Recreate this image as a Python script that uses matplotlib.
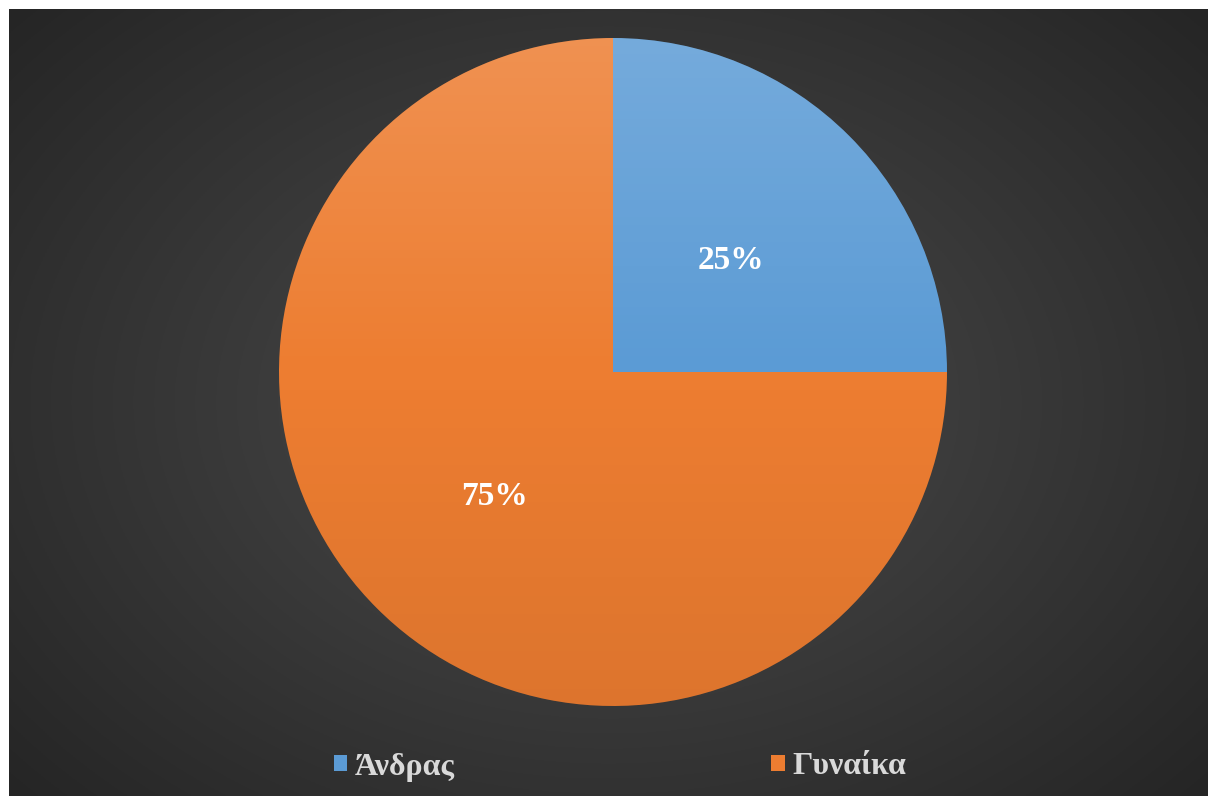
import numpy as np
import matplotlib
matplotlib.use("Agg")
import matplotlib.pyplot as plt
from matplotlib.patches import Circle

# gender split
labels = ["Άνδρας", "Γυναίκα"]
shares = [25, 75]
colors = ["#5b9bd5", "#ed7d31"]

W, H = 1210, 796
fig = plt.figure(figsize=(W / 100, H / 100), dpi=100, facecolor="white")

# dark radial background
bg = fig.add_axes([9 / W, 0, (W - 11) / W, (H - 9) / H], zorder=0)
yy, xx = np.mgrid[-1:1:400j, -1:1:600j]
rr = np.sqrt((xx * 1.0) ** 2 + (yy * 0.9) ** 2)
rr = np.clip(rr / rr.max(), 0, 1)
c_in = np.array([0x4c, 0x4c, 0x4c]) / 255
c_out = np.array([0x25, 0x25, 0x25]) / 255
img = c_in[None, None, :] * (1 - rr[..., None]) + c_out[None, None, :] * rr[..., None]
bg.imshow(img, aspect="auto", extent=(0, 1, 0, 1))
bg.set_axis_off()

# pie, centre at (613, 372) px from top-left, radius 334 px
R = 334
cx, cy = 613, 372
ax = fig.add_axes([(cx - R) / W, (H - cy - R) / H, 2 * R / W, 2 * R / H], zorder=1)
ax.patch.set_alpha(0)
wedges, _, autotexts = ax.pie(shares, colors=colors, startangle=0, counterclock=True,
                              autopct="%d%%", pctdistance=0.5, radius=1,
                              wedgeprops=dict(linewidth=0),
                              textprops=dict(color="white", fontsize=24,
                                             family="Liberation Serif", weight="bold"))
ax.set_xlim(-1, 1)
ax.set_ylim(-1, 1)

# soft light-to-dark shading over the slices
g = np.linspace(1, 0, 256)
shade = np.zeros((256, 1, 4))
top = g > 0.5
shade[top, 0, :3] = 1.0
shade[:, 0, 3] = np.where(top, (g - 0.5) * 0.32, (0.5 - g) * 0.14)
im = ax.imshow(shade, extent=(-1, 1, -1, 1), aspect="auto", zorder=2)
im.set_clip_path(Circle((0, 0), 1, transform=ax.transData))
for t in autotexts:
    t.set_zorder(3)
    x, y = t.get_position()
    t.set_position((x, y - 0.02))
ax.set_axis_off()

leg = fig.legend(wedges, labels, loc="center", bbox_to_anchor=(620 / W, 29 / H),
                 ncol=2, frameon=False, columnspacing=9.9,
                 handlelength=0.42, handleheight=0.42, handletextpad=0.25,
                 prop=dict(family="Liberation Serif", weight="bold", size=23))
for t in leg.get_texts():
    t.set_color("#d9d9d9")

fig.savefig("out.png", dpi=100, facecolor="white")
